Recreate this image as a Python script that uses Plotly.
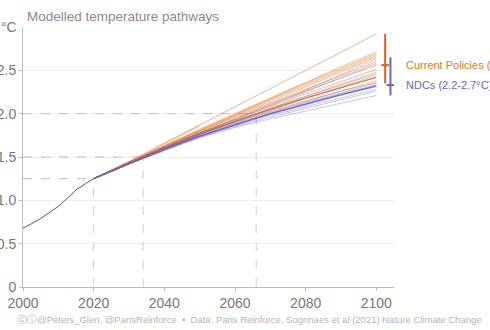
import plotly.graph_objects as go

# ---------------- data ----------------
hist_years = [2000, 2002, 2005, 2008, 2010, 2013, 2015, 2018, 2020]
hist_temps = [0.68, 0.72, 0.79, 0.87, 0.93, 1.04, 1.12, 1.20, 1.25]

scen_years = [2020, 2030, 2040, 2050, 2060, 2070, 2080, 2090, 2100]

cp_paths = [
    [1.25, 1.45, 1.66, 1.87, 2.08, 2.29, 2.50, 2.71, 2.92],
    [1.25, 1.44, 1.63, 1.82, 2.00, 2.18, 2.36, 2.54, 2.71],
    [1.25, 1.44, 1.63, 1.81, 1.99, 2.17, 2.35, 2.52, 2.69],
    [1.25, 1.44, 1.62, 1.80, 1.98, 2.16, 2.33, 2.50, 2.67],
    [1.25, 1.44, 1.62, 1.80, 1.97, 2.14, 2.31, 2.48, 2.65],
    [1.25, 1.44, 1.62, 1.79, 1.96, 2.12, 2.28, 2.44, 2.60],
    [1.25, 1.43, 1.61, 1.78, 1.94, 2.10, 2.26, 2.41, 2.56],
    [1.25, 1.43, 1.61, 1.78, 1.93, 2.08, 2.23, 2.37, 2.51],
    [1.25, 1.43, 1.60, 1.77, 1.92, 2.06, 2.20, 2.33, 2.46],
    [1.25, 1.43, 1.60, 1.77, 1.91, 2.05, 2.18, 2.30, 2.42],
    [1.25, 1.43, 1.60, 1.76, 1.90, 2.03, 2.15, 2.26, 2.36],
    [1.25, 1.44, 1.65, 1.86],
]
cp_median_idx = 9

ndc_paths = [
    [1.25, 1.43, 1.61, 1.78, 1.94, 2.11, 2.27, 2.45, 2.63],
    [1.25, 1.43, 1.61, 1.77, 1.93, 2.09, 2.25, 2.42, 2.58],
    [1.25, 1.43, 1.60, 1.76, 1.91, 2.06, 2.20, 2.34, 2.48],
    [1.25, 1.43, 1.60, 1.76, 1.90, 2.04, 2.18, 2.31, 2.44],
    [1.25, 1.42, 1.59, 1.75, 1.89, 2.02, 2.14, 2.26, 2.38],
    [1.25, 1.42, 1.59, 1.75, 1.88, 2.01, 2.13, 2.24, 2.35],
    [1.25, 1.42, 1.59, 1.74, 1.88, 2.00, 2.12, 2.23, 2.33],
    [1.25, 1.42, 1.59, 1.74, 1.87, 2.00, 2.11, 2.22, 2.32],
    [1.25, 1.42, 1.58, 1.74, 1.87, 1.99, 2.10, 2.21, 2.31],
    [1.25, 1.42, 1.58, 1.73, 1.86, 1.98, 2.08, 2.18, 2.28],
    [1.25, 1.42, 1.58, 1.73, 1.85, 1.96, 2.06, 2.16, 2.26],
    [1.25, 1.42, 1.57, 1.72, 1.84, 1.94, 2.03, 2.12, 2.21],
]
ndc_median_idx = 7

threshold_years = [2020, 2034, 2066]
threshold_temps = [1.25, 1.5, 2.0]

cp_range = [2.35, 2.92]
cp_median = 2.56
ndc_range = [2.21, 2.65]
ndc_median = 2.33
bar_years = [2102.5, 2104.0]
labels = ["Current Policies (2.3-2.9°C)", "NDCs (2.2-2.7°C)"]

x_ticks = [2000, 2020, 2040, 2060, 2080, 2100]
y_ticks = [0, 0.5, 1.0, 1.5, 2.0, 2.5]
y_ticklabels = ["0", "0.5", "1.0", "1.5", "2.0", "2.5"]

# ---------------- styles ----------------
ORANGE = "#e8731e"
PURPLE = "#6c63c1"
ORANGE_BAR = "#e05f12"
PURPLE_BAR = "#6d66bd"
FONT = "Liberation Sans"

fig = go.Figure()

# dashed reference lines
for yr, t in zip(threshold_years, threshold_temps):
    fig.add_trace(go.Scatter(x=[hist_years[0], yr], y=[t, t], mode="lines",
                             line=dict(color="#bdbdbd", width=1, dash="dash"),
                             hoverinfo="skip", showlegend=False))
    fig.add_trace(go.Scatter(x=[yr, yr], y=[0, t], mode="lines",
                             line=dict(color="#cfcfcf", width=1, dash="dash"),
                             hoverinfo="skip", showlegend=False))

# scenario lines
for i, p in enumerate(cp_paths):
    fig.add_trace(go.Scatter(x=scen_years[:len(p)], y=p, mode="lines",
                             line=dict(color=ORANGE, width=1.3 if i == cp_median_idx else 0.7),
                             opacity=0.95 if i == cp_median_idx else 0.75,
                             showlegend=False))
for i, p in enumerate(ndc_paths):
    fig.add_trace(go.Scatter(x=scen_years[:len(p)], y=p, mode="lines",
                             line=dict(color=PURPLE, width=1.3 if i == ndc_median_idx else 0.6),
                             opacity=0.95 if i == ndc_median_idx else 0.6,
                             showlegend=False))

# historical
fig.add_trace(go.Scatter(x=hist_years, y=hist_temps, mode="lines",
                         line=dict(color="#5a5a5a", width=1), showlegend=False))

# range bars
for yr, rng, med, col in [(bar_years[0], cp_range, cp_median, ORANGE_BAR),
                          (bar_years[1], ndc_range, ndc_median, PURPLE_BAR)]:
    fig.add_trace(go.Scatter(x=[yr, yr], y=rng, mode="lines",
                             line=dict(color=col, width=2), cliponaxis=False, showlegend=False))
    fig.add_trace(go.Scatter(x=[yr - 1.1, yr + 1.1], y=[med, med], mode="lines",
                             line=dict(color=col, width=2), cliponaxis=False, showlegend=False))

# labels (to the right of the plot area)
fig.add_annotation(xref="paper", x=1.027, y=cp_median, text=labels[0], showarrow=False,
                   xanchor="left", yanchor="middle", font=dict(color=ORANGE, size=11, family=FONT))
fig.add_annotation(xref="paper", x=1.027, y=ndc_median, text=labels[1], showarrow=False,
                   xanchor="left", yanchor="middle", font=dict(color=PURPLE, size=11, family=FONT))

fig.add_annotation(xref="paper", yref="paper", x=0.005, y=1.0, text="Modelled temperature pathways",
                   showarrow=False, xanchor="left", yanchor="bottom", yshift=1,
                   font=dict(color="#8a8a8a", size=13.5, family=FONT))
fig.add_annotation(xref="paper", yref="paper", x=0, y=1.0, text="°C",
                   showarrow=False, xanchor="right", yanchor="middle", xshift=-4,
                   font=dict(color="#777777", size=14, family=FONT))
fig.add_annotation(xref="paper", yref="paper", x=0.61, y=0, yshift=-25,
                   text="ⓒⓘ@Peters_Glen, @ParisReinforce  •  Data: Paris Reinforce, Sognnaes et al (2021) Nature Climate Change",
                   showarrow=False, xanchor="center", yanchor="top",
                   font=dict(color="#b5b5b5", size=9.5, family=FONT))

fig.update_layout(
    width=490, height=330,
    margin=dict(l=23, r=96, t=27, b=43, autoexpand=False),
    plot_bgcolor="white", paper_bgcolor="white",
    font=dict(family=FONT),
    xaxis=dict(range=[2000, 2105], tickvals=x_ticks, showgrid=False, zeroline=False,
               showline=True, linecolor="#bdbdbd", linewidth=1, automargin=False,
               ticks="outside", ticklen=3, tickcolor="#bdbdbd",
               tickfont=dict(color="#777777", size=14, family=FONT)),
    yaxis=dict(range=[0, 3], tickvals=y_ticks, ticktext=y_ticklabels,
               showgrid=True, gridcolor="#eeeeee", gridwidth=1, zeroline=False,
               showline=True, linecolor="#bdbdbd", linewidth=1, automargin=False,
               ticks="outside", ticklen=3, tickcolor="#bdbdbd",
               tickfont=dict(color="#777777", size=14, family=FONT)),
)

fig.write_html("out.html")
